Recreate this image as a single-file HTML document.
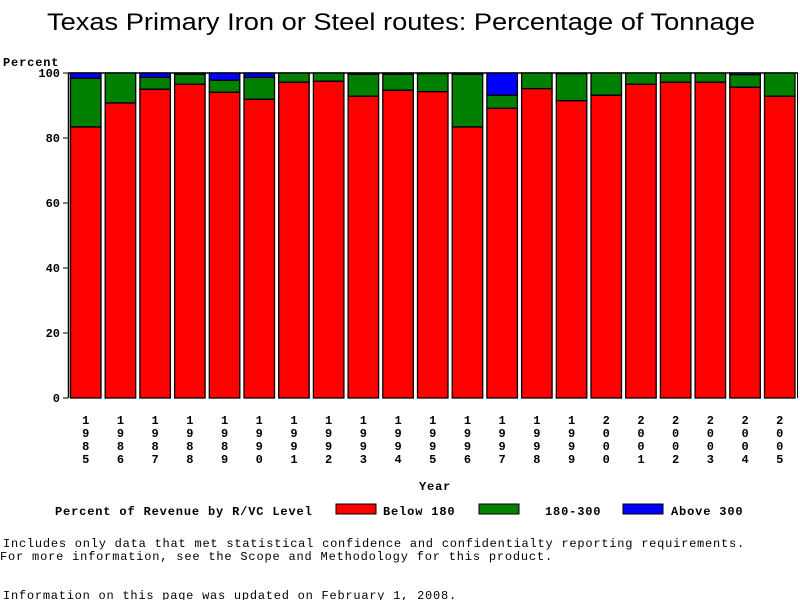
<!DOCTYPE html>
<html><head><meta charset="utf-8"><style>
html,body{margin:0;padding:0;background:#fff;width:800px;height:600px;overflow:hidden}
svg text{font-family:"Liberation Mono","DejaVu Sans Mono",monospace;font-weight:bold;font-size:12px;fill:#000;letter-spacing:0.85px}
</style></head><body>
<svg id="s" width="800" height="600" xmlns="http://www.w3.org/2000/svg">
<text x="47" y="30" textLength="708" lengthAdjust="spacingAndGlyphs" style="font-family:'Liberation Sans',sans-serif;font-weight:normal;font-size:24px;letter-spacing:0">Texas Primary Iron or Steel routes: Percentage of Tonnage</text>
<text x="3" y="66">Percent</text>
<line x1="68.5" y1="73" x2="68.5" y2="398" stroke="#000" stroke-width="1.5"/>
<line x1="68" y1="73" x2="798" y2="73" stroke="#000" stroke-width="1.5"/>
<line x1="797.5" y1="73" x2="797.5" y2="398" stroke="#000" stroke-width="1"/>
<g id="bars"></g>
<g id="ax"></g>
<text x="419" y="490">Year</text>
<text x="55" y="515">Percent of Revenue by R/VC Level</text>
<rect x="336" y="504" width="40" height="10" fill="#f00" stroke="#000"/>
<text x="383" y="515">Below 180</text>
<rect x="479" y="504" width="40" height="10" fill="#008000" stroke="#000"/>
<text x="545" y="515">180-300</text>
<rect x="623" y="504" width="40" height="10" fill="#00f" stroke="#000"/>
<text x="671" y="515">Above 300</text>
<text x="3" y="547" textLength="742" lengthAdjust="spacing" style="font-weight:normal">Includes only data that met statistical confidence and confidentialty reporting requirements.</text>
<text x="0" y="560" textLength="553" lengthAdjust="spacing" style="font-weight:normal">For more information, see the Scope and Methodology for this product.</text>
<text x="3" y="599" textLength="454" lengthAdjust="spacing" style="font-weight:normal">Information on this page was updated on February 1, 2008.</text>
</svg>
<script>
var red=[127,103,89.3,84.3,92.3,99.3,82.3,81.3,96.3,90.3,91.7,127,108.3,88.7,100.7,95.3,84.3,82.3,82.3,87.3,96.3];
var grn=[78.3,73,77.5,74.3,80.3,77.5,73,73,74.3,74.3,73.7,74.3,95.3,73,73.7,73,73,73,73,74.7,73];
var ns="http://www.w3.org/2000/svg",b=document.getElementById("bars"),ax=document.getElementById("ax");
function R(x,y,w,h,f){var r=document.createElementNS(ns,"rect");r.setAttribute("x",x);r.setAttribute("y",y);r.setAttribute("width",w);r.setAttribute("height",h);r.setAttribute("fill",f);r.setAttribute("stroke","#000");r.setAttribute("stroke-width","1.3");b.appendChild(r);}
function T(x,y,s,a){var t=document.createElementNS(ns,"text");t.setAttribute("x",x);t.setAttribute("y",y);t.setAttribute("text-anchor",a||"middle");t.setAttribute("style","letter-spacing:0");t.textContent=s;ax.appendChild(t);}
for(var i=0;i<21;i++){var x=70.5+i*34.7,w=30.5;
if(grn[i]>73.5)R(x,73,w,grn[i]-73,"#00f");
R(x,grn[i],w,red[i]-grn[i],"#008000");
R(x,red[i],w,398-red[i],"#f00");
var yr=String(1985+i);for(var k=0;k<4;k++)T(x+w/2,424+k*13,yr[k]);}
for(var v=0;v<=100;v+=20){var y=398-v*3.25;var l=document.createElementNS(ns,"line");l.setAttribute("x1",63);l.setAttribute("x2",68);l.setAttribute("y1",y);l.setAttribute("y2",y);l.setAttribute("stroke","#000");ax.appendChild(l);T(60,y+4,String(v),"end");}
</script>
</body></html>
